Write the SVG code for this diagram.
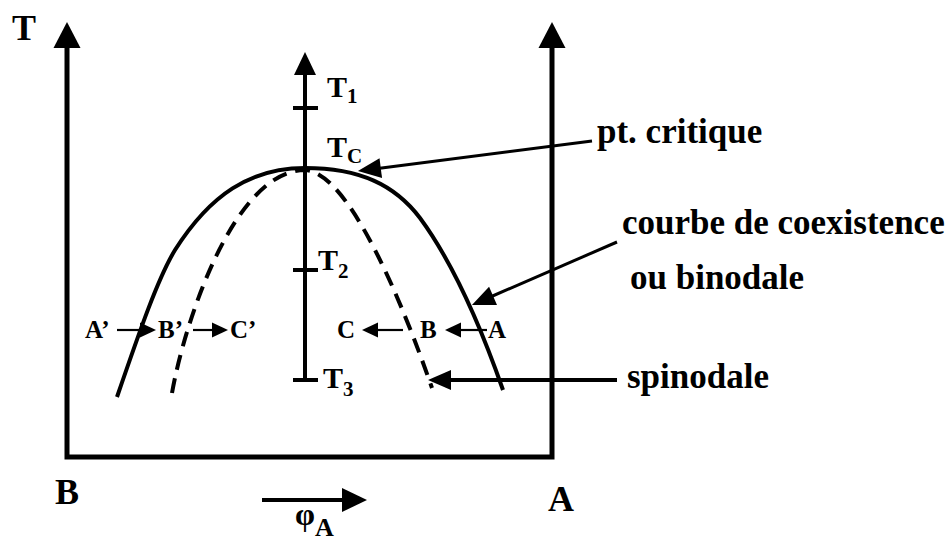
<svg xmlns="http://www.w3.org/2000/svg" width="948" height="543" viewBox="0 0 948 543">
<style>
text{font-family:"Liberation Serif","Times New Roman",serif;font-weight:bold;fill:#000}
.big{font-size:36px}
.lbl{font-size:35px}
.tt{font-size:30px}
.sub{font-size:21px}
.sm{font-size:25px}
.ax{fill:none;stroke:#000;stroke-width:5;stroke-linejoin:miter}
.cur{fill:none;stroke:#000;stroke-width:4}
.dash{fill:none;stroke:#000;stroke-width:4;stroke-dasharray:15 9}
.ln{fill:none;stroke:#000;stroke-width:4}
.thin{fill:none;stroke:#000;stroke-width:2.2}
</style>
<defs>
<marker id="mAx" markerUnits="userSpaceOnUse" markerWidth="26" markerHeight="27" refX="3" refY="13.5" orient="auto-start-reverse" overflow="visible"><path d="M0,0 L26,13.5 L0,27 z" fill="#000"/></marker>
<marker id="mMid" markerUnits="userSpaceOnUse" markerWidth="23" markerHeight="22" refX="3" refY="11" orient="auto" overflow="visible"><path d="M0,0 L23,11 L0,22 z" fill="#000"/></marker>
<marker id="mLbl" markerUnits="userSpaceOnUse" markerWidth="23" markerHeight="20" refX="3" refY="10" orient="auto" overflow="visible"><path d="M0,0 L23,10 L0,20 z" fill="#000"/></marker>
<marker id="mSm" markerUnits="userSpaceOnUse" markerWidth="16" markerHeight="15" refX="2" refY="7.5" orient="auto" overflow="visible"><path d="M0,0 L16,7.5 L0,15 z" fill="#000"/></marker>
<marker id="mPhi" markerUnits="userSpaceOnUse" markerWidth="25" markerHeight="24" refX="3" refY="12" orient="auto" overflow="visible"><path d="M0,0 L25,12 L0,24 z" fill="#000"/></marker>
</defs>
<rect width="948" height="543" fill="#fff"/>

<g id="frame">
<path class="ax" d="M67,45 V457 H552 V45" marker-start="url(#mAx)" marker-end="url(#mAx)"/>
<text class="big" x="12" y="40">T</text>
<text class="big" x="55" y="504" font-size="38">B</text>
<text class="big" x="548" y="511" font-size="38">A</text>
</g>

<g id="temperature-axis">
<path class="ln" d="M305,380 V72" marker-end="url(#mMid)"/>
<path class="ln" d="M293,108 H318 M293,270 H318 M293,380 H318"/>
<text class="tt" x="327" y="97">T<tspan class="sub" dy="6">1</tspan></text>
<text class="tt" x="327" y="157">T<tspan class="sub" font-size="20" dy="6">C</tspan></text>
<text class="tt" x="318" y="270">T<tspan class="sub" dy="8">2</tspan></text>
<text class="tt" x="323" y="388">T<tspan class="sub" dy="8">3</tspan></text>
</g>

<g id="binodale">
<path class="cur" d="M117,397 C140,330 158,278 175,250 C210,195 250,168 305,168 C360,168 395,185 420,218 C445,252 475,310 503,390"/>
</g>

<g id="spinodale">
<path class="dash" d="M172,393 C185,320 235,170 305,170 C350,172 405,310 432,388"/>
</g>

<g id="connectors">
<path class="thin" d="M592,141 L377.8,168.5" marker-end="url(#mLbl)" style="stroke-width:3"/>
<path class="thin" d="M617,242 L490.3,297" marker-end="url(#mLbl)" style="stroke-width:3"/>
<path class="ln" d="M617,380 H448" marker-end="url(#mLbl)"/>
<path class="thin" d="M117,330 H142" marker-end="url(#mSm)"/>
<path class="thin" d="M193,330 H214" marker-end="url(#mSm)"/>
<path class="thin" d="M403,330 H376" marker-end="url(#mSm)"/>
<path class="thin" d="M487,330 H459" marker-end="url(#mSm)"/>
<path class="ln" d="M262,500 H345" marker-end="url(#mPhi)"/>
</g>

<g id="labels">
<text class="lbl" x="597" y="143">pt. critique</text>
<text class="lbl" x="622" y="234">courbe de coexistence</text>
<text class="lbl" x="630" y="289">ou binodale</text>
<text class="lbl" x="627" y="388">spinodale</text>
<text class="sm" x="85" y="338">A’</text>
<text class="sm" x="158" y="338">B’</text>
<text class="sm" x="230" y="338">C’</text>
<text class="sm" x="337" y="338">C</text>
<text class="sm" x="420" y="338">B</text>
<text class="sm" x="488" y="338">A</text>
<text x="295" y="525" font-size="32">φ<tspan font-size="26" dy="11">A</tspan></text>
</g>
</svg>
